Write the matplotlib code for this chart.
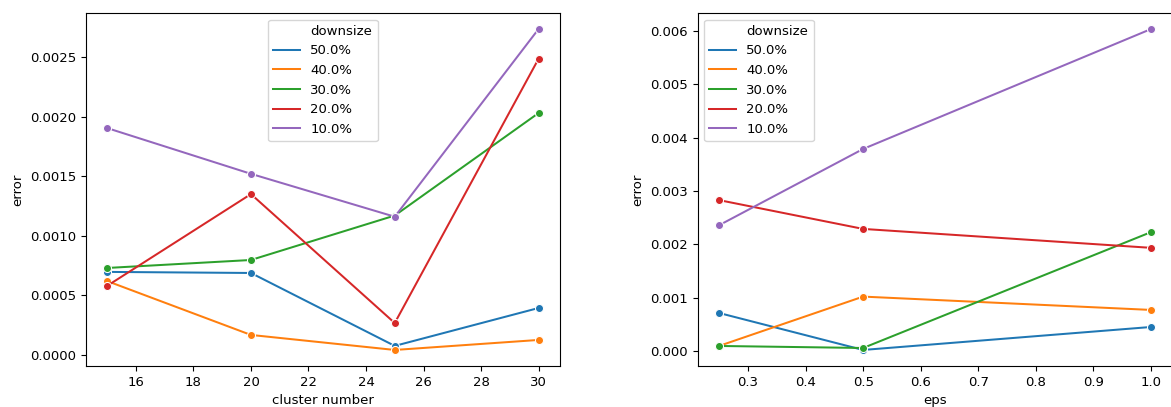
import numpy as np
import matplotlib
matplotlib.use('Agg')
import matplotlib.pyplot as plt
from matplotlib.lines import Line2D

downsize = ['50.0%', '40.0%', '30.0%', '20.0%', '10.0%']
colors = ['#1f77b4', '#ff7f0e', '#2ca02c', '#d62728', '#9467bd']

cluster_number = [15, 20, 25, 30]
err_cluster = {
    '50.0%': [0.000697, 0.000688, 0.000076, 0.000394],
    '40.0%': [0.000620, 0.000168, 0.000042, 0.000126],
    '30.0%': [0.000730, 0.000797, 0.001170, 0.002030],
    '20.0%': [0.000580, 0.001350, 0.000268, 0.002485],
    '10.0%': [0.001904, 0.001520, 0.001160, 0.002735],
}

eps = [0.25, 0.5, 1.0]
err_eps = {
    '50.0%': [0.000712, 0.000019, 0.000450],
    '40.0%': [0.000095, 0.001020, 0.000770],
    '30.0%': [0.000094, 0.000056, 0.002230],
    '20.0%': [0.002830, 0.002290, 0.001935],
    '10.0%': [0.002360, 0.003790, 0.006040],
}

plt.rcParams['font.size'] = 9.5

fig = plt.figure(figsize=(11.71, 4.07), dpi=100)
ax1 = fig.add_axes([85.6/1171, 1 - 366/407, 474.5/1171, 353/407])
ax2 = fig.add_axes([697.6/1171, 1 - 366/407, 475/1171, 353/407])


def draw(ax, x, data, xlabel, loc):
    handles = [Line2D([], [], linestyle='none', marker='none')]
    for name, c in zip(downsize, colors):
        ax.plot(x, data[name], color=c, lw=1.45, marker='o', ms=5.8,
                mec='white', mew=0.75)
        handles.append(Line2D([], [], color=c, lw=1.45))
    ax.set_xlabel(xlabel)
    ax.set_ylabel('error')
    ax.legend(handles, ['downsize'] + downsize, loc=loc)


draw(ax1, cluster_number, err_cluster, 'cluster number', 'upper center')
draw(ax2, eps, err_eps, 'eps', 'upper left')

fig.savefig('out.png', dpi=100)
